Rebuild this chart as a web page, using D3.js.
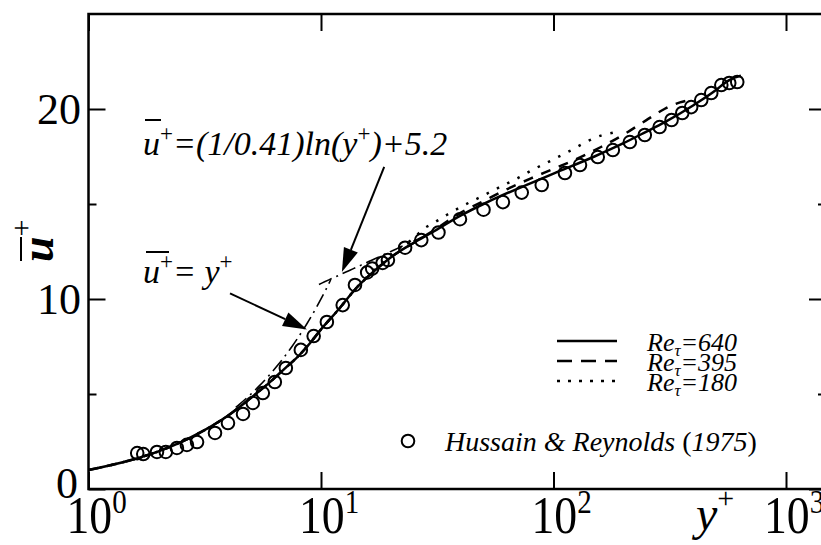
<!DOCTYPE html>
<html><head><meta charset="utf-8">
<script src="https://cdn.jsdelivr.net/npm/d3@7"></script>
<style>body{margin:0;background:#fff} svg text{font-family:"Liberation Serif","Times New Roman",Times,serif}</style>
</head><body><svg id="c" width="821" height="545"></svg>
<script>
// ---- data ----
const yPlus640 = [1,1.5,2,2.5,3,4,5,6,7,8,9,10,12,14,16,18,20,25,30,40,50,60,80,100,150,200,250,300,400,500,550,600,640];
const u640     = [1.0,1.5,1.98,2.47,2.95,3.88,4.8,5.6,6.35,7.0,7.7,8.4,9.5,10.5,11.2,11.75,12.2,12.95,13.5,14.4,15.0,15.45,16.1,16.6,17.5,18.2,18.8,19.3,20.2,21.0,21.4,21.65,21.75];
const yPlus395 = [1,1.5,2,2.5,3,4,5,6,7,8,9,10,12,14,16,18,20,25,30,40,50,60,80,100,130,160,200,250,300,350,395];
const u395     = [1.0,1.5,1.98,2.47,2.95,3.88,4.8,5.6,6.35,7.0,7.7,8.4,9.5,10.5,11.2,11.75,12.2,12.95,13.55,14.55,15.15,15.65,16.35,16.85,17.45,18.0,18.65,19.4,20.0,20.35,20.5];
const yPlus180 = [1,1.5,2,2.5,3,4,5,6,7,8,9,10,12,14,16,18,20,25,28,30,35,40,50,60,70,80,100,120,140,160,180];
const u180     = [1.0,1.5,1.98,2.47,2.95,3.88,4.8,5.6,6.35,7.0,7.7,8.4,9.5,10.5,11.25,11.85,12.35,13.2,13.75,13.95,14.45,14.85,15.45,15.95,16.35,16.75,17.35,17.85,18.3,18.6,18.75];
const yPlusHR  = [1.62,1.72,1.97,2.15,2.40,2.65,2.93,3.5,3.98,4.62,5.09,5.62,6.33,7.06,8.19,9.3,10.6,12.4,14.0,15.8,16.6,18.4,19.4,23,27,32,39.6,50,60.6,73,89,112,130,155,180,213,247,286,322,358,391,432,477,527,570,617];
const uHR      = [1.89,1.84,1.95,1.95,2.16,2.32,2.47,2.95,3.47,3.95,4.53,5.05,5.63,6.37,7.32,8.05,8.79,9.68,10.74,11.4,11.6,11.9,12.05,12.7,13.1,13.5,14.2,14.7,15.1,15.6,16.0,16.63,17.05,17.47,17.84,18.26,18.63,19.05,19.42,19.79,20.1,20.47,20.84,21.26,21.37,21.42];
const linearLawRange = [4.3, 11];     // u+ = y+
const logLawRange    = [9.8, 30];     // u+ = (1/0.41) ln(y+) + 5.2
const xTickValues = [1,10,100,1000];
const xTickExp    = ["0","1","2","3"];
const yMajorTicks = [0,10,20];
const yMinorTicks = [5,15];
const legendLabels = ["640","395","180"];

// ---- setup ----
const svg = d3.select("#c");
const x = d3.scaleLog().domain([1,1000]).range([88.5,786]);
const y = d3.scaleLinear().domain([0,25]).range([489,14]);
const X0 = x(1), X1 = 826, Y0 = y(0), Y1 = y(25);

const zip = (a,b) => a.map((v,i)=>[v,b[i]]);
const line = d3.line().x(d=>x(d[0])).y(d=>y(d[1])).curve(d3.curveMonotoneX);

// axes (ticks inward)
function styleAxis(g){ g.select(".domain").remove(); g.selectAll(".tick line").attr("stroke","#000").attr("stroke-width",2); g.selectAll("text").remove(); }
svg.append("g").attr("transform",`translate(0,${Y0})`).call(d3.axisBottom(x).tickValues(xTickValues).tickSize(-17).tickSizeOuter(0)).call(styleAxis);
svg.append("g").attr("transform",`translate(0,${Y1})`).call(d3.axisTop(x).tickValues(xTickValues).tickSize(-17).tickSizeOuter(0)).call(styleAxis);
svg.append("g").attr("transform",`translate(${X0},0)`).call(d3.axisLeft(y).tickValues(yMajorTicks).tickSize(-17).tickSizeOuter(0)).call(styleAxis);
svg.append("g").attr("transform",`translate(${X0},0)`).call(d3.axisLeft(y).tickValues(yMinorTicks).tickSize(-8).tickSizeOuter(0)).call(styleAxis);
svg.append("g").attr("transform",`translate(${X1},0)`).call(d3.axisRight(y).tickValues(yMajorTicks).tickSize(-17).tickSizeOuter(0)).call(styleAxis);
svg.append("g").attr("transform",`translate(${X1},0)`).call(d3.axisRight(y).tickValues(yMinorTicks).tickSize(-8).tickSizeOuter(0)).call(styleAxis);

svg.append("rect").attr("x",X0).attr("y",Y1).attr("width",X1-X0).attr("height",Y0-Y1)
  .attr("fill","none").attr("stroke","#000").attr("stroke-width",2.5);

// y tick labels
svg.selectAll(".ylab").data(yMajorTicks).enter().append("text")
  .attr("x",d=> d===0 ? 78 : 81).attr("y",d=> d===0 ? Y0+9 : y(d)+15)
  .attr("text-anchor","end").attr("font-size",44).text(d=>d);

// x tick labels (slightly condensed like the original)
xTickValues.forEach((v,i)=>{
  const g = svg.append("g").attr("transform",`translate(${x(v)-22},533) scale(0.88,1)`);
  const t = g.append("text").attr("x",0).attr("y",0).attr("font-size",52);
  t.append("tspan").text("10");
  t.append("tspan").attr("dy",-20).attr("font-size",33).text(xTickExp[i]);
});

// axis titles
const xt = svg.append("text").attr("x",696).attr("y",530).attr("font-style","italic").attr("font-size",48);
xt.append("tspan").text("y");
xt.append("tspan").attr("dy",-22).attr("font-size",30).attr("font-style","normal").text("+");

const yt = svg.append("g").attr("transform","translate(53,262) rotate(-90)");
const ytt = yt.append("text").attr("x",0).attr("y",0).attr("font-style","italic").attr("font-weight","bold").attr("font-size",46);
ytt.append("tspan").text("u");
ytt.append("tspan").attr("dy",-22).attr("font-size",30).attr("font-weight","normal").attr("font-style","normal").text("+");
yt.append("line").attr("x1",1).attr("x2",25).attr("y1",-32).attr("y2",-32).attr("stroke","#000").attr("stroke-width",2);

// clip
svg.append("clipPath").attr("id","clip").append("rect").attr("x",X0).attr("y",Y1).attr("width",X1-X0).attr("height",Y0-Y1);
const plot = svg.append("g").attr("clip-path","url(#clip)");

// reference laws (dash-dot)
const linPts = d3.range(0,21).map(i=>{const v=linearLawRange[0]*Math.pow(linearLawRange[1]/linearLawRange[0],i/20);return [v,v];});
const logPts = d3.range(0,21).map(i=>{const v=logLawRange[0]*Math.pow(logLawRange[1]/logLawRange[0],i/20);return [v,Math.log(v)/0.41+5.2];});
[linPts,logPts].forEach(p=>plot.append("path").attr("d",line(p)).attr("fill","none").attr("stroke","#000")
  .attr("stroke-width",1.6).attr("stroke-dasharray","14,5,2,5"));

// DNS curves
plot.append("path").attr("d",line(zip(yPlus640,u640))).attr("fill","none").attr("stroke","#000").attr("stroke-width",2.5);
plot.append("path").attr("d",line(zip(yPlus395,u395))).attr("fill","none").attr("stroke","#000").attr("stroke-width",2.5).attr("stroke-dasharray","10,9");
plot.append("path").attr("d",line(zip(yPlus180,u180))).attr("fill","none").attr("stroke","#000").attr("stroke-width",2.5).attr("stroke-dasharray","2.5,9");

// experimental circles
plot.selectAll("circle.hr").data(zip(yPlusHR,uHR)).enter().append("circle")
  .attr("cx",d=>x(d[0])).attr("cy",d=>y(d[1])).attr("r",6.3)
  .attr("fill","none").attr("stroke","#000").attr("stroke-width",2);

// annotations
function arrow(tail, tip){
  const x1=x(tail[0]), y1=y(tail[1]), x2=x(tip[0]), y2=y(tip[1]);
  const ang=Math.atan2(y2-y1,x2-x1), L=24, W=7.5;
  const bx=x2-L*Math.cos(ang), by=y2-L*Math.sin(ang);
  svg.append("line").attr("x1",x1).attr("y1",y1).attr("x2",bx).attr("y2",by).attr("stroke","#000").attr("stroke-width",2);
  svg.append("path").attr("d",`M${x2},${y2}L${bx-W*Math.sin(ang)},${by+W*Math.cos(ang)}L${bx+W*Math.sin(ang)},${by-W*Math.cos(ang)}Z`).attr("fill","#000");
}
arrow([4.06,10.3],[8.7,8.4]);
arrow([18.7,16.95],[12.3,11.42]);

const a1 = svg.append("text").attr("x",143).attr("y",155).attr("font-style","italic").attr("font-size",34);
a1.append("tspan").text("u");
a1.append("tspan").attr("dy",-14).attr("font-size",23).attr("font-style","normal").text("+");
a1.append("tspan").attr("dy",14).text("=(1/0.41)ln(y");
a1.append("tspan").attr("dy",-14).attr("font-size",23).attr("font-style","normal").text("+");
a1.append("tspan").attr("dy",14).text(")+5.2");
svg.append("line").attr("x1",145).attr("x2",161).attr("y1",120).attr("y2",120).attr("stroke","#000").attr("stroke-width",2);

const a2 = svg.append("text").attr("x",143).attr("y",283).attr("font-style","italic").attr("font-size",34);
a2.append("tspan").text("u");
a2.append("tspan").attr("dy",-14).attr("font-size",23).attr("font-style","normal").text("+");
a2.append("tspan").attr("dy",14).text("= y");
a2.append("tspan").attr("dy",-14).attr("font-size",23).attr("font-style","normal").text("+");
svg.append("line").attr("x1",146).attr("x2",169).attr("y1",252).attr("y2",252).attr("stroke","#000").attr("stroke-width",2);

// legend
const legDash = [null,"15,9","3,8"];
legendLabels.forEach((lab,i)=>{
  const ly = 341 + i*20;
  svg.append("line").attr("x1",557).attr("x2",617).attr("y1",ly).attr("y2",ly).attr("stroke","#000")
    .attr("stroke-width",2.5).attr("stroke-dasharray",legDash[i]);
  const t = svg.append("text").attr("x",647).attr("y",ly+10).attr("font-style","italic").attr("font-size",26);
  t.append("tspan").text("Re");
  t.append("tspan").attr("dy",5).attr("font-size",17).text("τ");
  t.append("tspan").attr("dy",-5).text("="+lab);
});
svg.append("circle").attr("cx",408).attr("cy",441).attr("r",6.3).attr("fill","none").attr("stroke","#000").attr("stroke-width",2);
const ht = svg.append("text").attr("x",445).attr("y",451).attr("font-size",28);
ht.append("tspan").attr("font-style","italic").text("Hussain & Reynolds ");
ht.append("tspan").text("(");
ht.append("tspan").attr("font-style","italic").text("1975");
ht.append("tspan").text(")");
</script></body></html>
